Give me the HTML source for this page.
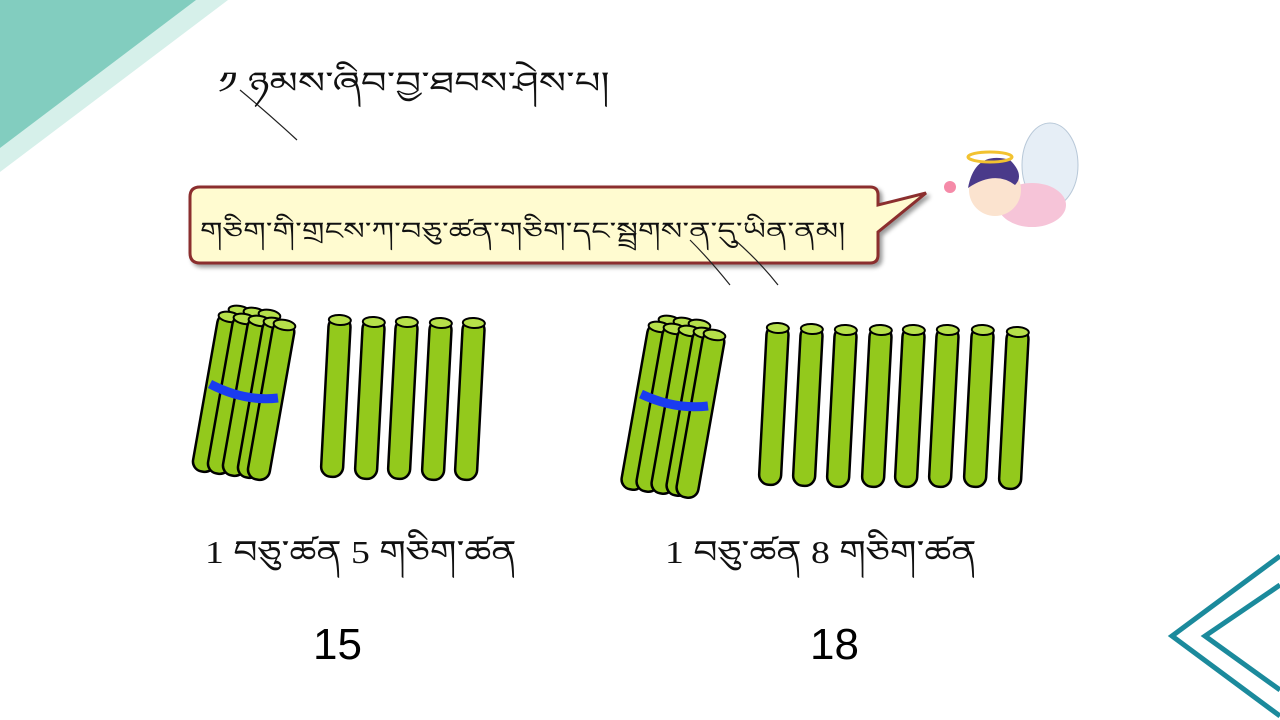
<!DOCTYPE html>
<html><head><meta charset="utf-8"><style>
html,body{margin:0;padding:0;background:#fff;}
body{width:1280px;height:720px;position:relative;overflow:hidden;font-family:"Liberation Sans",sans-serif;}
.t{position:absolute;color:#111;font-family:"Liberation Serif","DejaVu Sans",serif;white-space:nowrap;transform-origin:0 0;}
.n{position:absolute;font-size:44px;color:#000;}
</style></head><body>
<svg width="1280" height="720" style="position:absolute;left:0;top:0">
<defs>
<g id="stk"><rect x="-11" y="0" width="22" height="160" rx="10" fill="#93c91c" stroke="#000" stroke-width="2.5"/><ellipse cx="0" cy="3" rx="11" ry="5" fill="#b6e04a" stroke="#000" stroke-width="2"/></g>
<g id="stk2"><rect x="-11" y="0" width="22" height="168" rx="10" fill="#93c91c" stroke="#000" stroke-width="2.5"/><ellipse cx="0" cy="3" rx="11" ry="5" fill="#b6e04a" stroke="#000" stroke-width="2"/></g>
</defs>
<polygon points="0,0 228,0 0,172" fill="#d6f0ea"/>
<polygon points="0,0 196,0 0,148" fill="#82cdbf"/>
<polyline points="1280,556 1172,636 1280,716" fill="none" stroke="#1b8a9c" stroke-width="5"/>
<polyline points="1280,585 1205,636 1280,690" fill="none" stroke="#1b8a9c" stroke-width="5"/>
<path d="M200,187 H870 Q878,187 878,195 V205 L926,193 L878,232 V255 Q878,263 870,263 H200 Q190,263 190,253 V197 Q190,187 200,187 Z" fill="#fffbd0" stroke="#8b2e2e" stroke-width="3" filter="drop-shadow(3px 3px 2px #999)"/>
<use href="#stk" transform="translate(240,308) rotate(10)"/>
<use href="#stk" transform="translate(255,310) rotate(10)"/>
<use href="#stk" transform="translate(270,312) rotate(10)"/>
<use href="#stk" transform="translate(230,314) rotate(10)"/>
<use href="#stk" transform="translate(245,316) rotate(10)"/>
<use href="#stk" transform="translate(260,318) rotate(10)"/>
<use href="#stk" transform="translate(275,320) rotate(10)"/>
<use href="#stk" transform="translate(285,322) rotate(10)"/>
<path d="M210,384 Q245,402 278,398" stroke="#1a3cf0" stroke-width="9" fill="none"/>
<use href="#stk" transform="translate(340,317) rotate(3)"/>
<use href="#stk" transform="translate(374,319) rotate(3)"/>
<use href="#stk" transform="translate(407,319) rotate(3)"/>
<use href="#stk" transform="translate(441,320) rotate(3)"/>
<use href="#stk" transform="translate(474,320) rotate(3)"/>
<use href="#stk2" transform="translate(670,318) rotate(10)"/>
<use href="#stk2" transform="translate(685,320) rotate(10)"/>
<use href="#stk2" transform="translate(700,322) rotate(10)"/>
<use href="#stk2" transform="translate(660,324) rotate(10)"/>
<use href="#stk2" transform="translate(675,326) rotate(10)"/>
<use href="#stk2" transform="translate(690,328) rotate(10)"/>
<use href="#stk2" transform="translate(705,330) rotate(10)"/>
<use href="#stk2" transform="translate(715,332) rotate(10)"/>
<path d="M641,394 Q675,410 708,406" stroke="#1a3cf0" stroke-width="9" fill="none"/>
<use href="#stk" transform="translate(778,325) rotate(3)"/>
<use href="#stk" transform="translate(812,326) rotate(3)"/>
<use href="#stk" transform="translate(846,327) rotate(3)"/>
<use href="#stk" transform="translate(881,327) rotate(3)"/>
<use href="#stk" transform="translate(914,327) rotate(3)"/>
<use href="#stk" transform="translate(948,327) rotate(3)"/>
<use href="#stk" transform="translate(983,327) rotate(3)"/>
<use href="#stk" transform="translate(1018,329) rotate(3)"/>
<ellipse cx="1050" cy="165" rx="28" ry="42" fill="#e6eef6" stroke="#b8c8d8" />
<ellipse cx="1032" cy="205" rx="34" ry="22" fill="#f6c4d8"/>
<circle cx="995" cy="190" r="26" fill="#fbe3cf"/>
<path d="M968,188 Q975,150 1010,160 Q1025,175 1015,185 Q995,170 968,188Z" fill="#4a3a8a"/>
<ellipse cx="990" cy="157" rx="22" ry="5" fill="none" stroke="#f2c230" stroke-width="3"/>
<circle cx="950" cy="187" r="6" fill="#f58aa8"/>
<path d="M690,240 Q710,260 730,285 M735,240 Q760,262 778,285" stroke="#222" fill="none" stroke-width="1.2"/>
<path d="M240,90 Q270,115 297,140" stroke="#222" fill="none" stroke-width="1.2"/>
</svg>
<div class="t" style="left:218px;top:50px;font-size:30px;transform:scaleX(1.35);">༡ ཉམས་ཞིབ་བྱ་ཐབས་ཤེས་པ།</div>
<div class="t" style="left:200px;top:205px;font-size:24px;transform:scaleX(1.34);">གཅིག་གི་གྲངས་ཀ་བཅུ་ཚན་གཅིག་དང་སྦྲགས་ན་དུ་ཡིན་ནམ།</div>
<div class="t" style="left:205px;top:517px;font-size:32px;transform:scaleX(1.18);">1 བཅུ་ཚན 5 གཅིག་ཚན</div>
<div class="t" style="left:665px;top:517px;font-size:32px;transform:scaleX(1.18);">1 བཅུ་ཚན 8 གཅིག་ཚན</div>
<div class="n" style="left:313px;top:620px;">15</div>
<div class="n" style="left:810px;top:620px;">18</div>
</body></html>
